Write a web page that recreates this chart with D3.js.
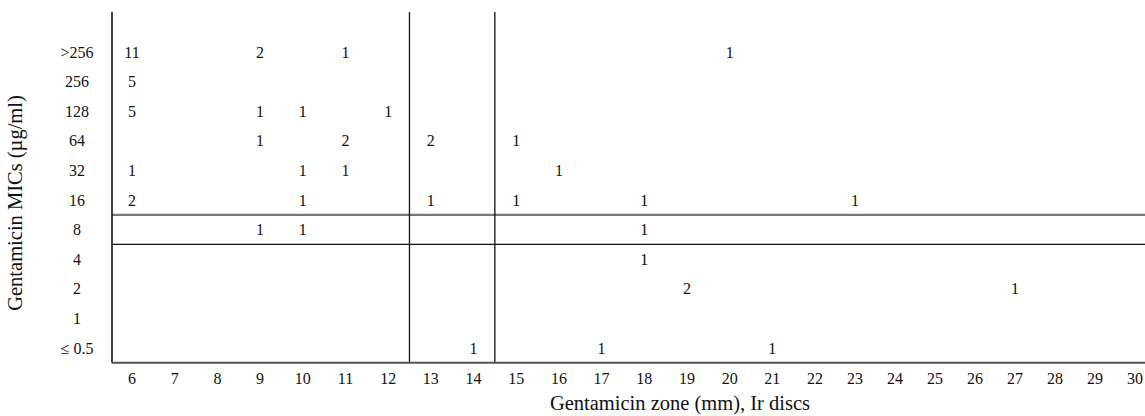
<!DOCTYPE html>
<html><head><meta charset="utf-8">
<script src="https://cdn.jsdelivr.net/npm/d3@7/dist/d3.min.js"></script>
<style>
html,body{margin:0;padding:0;background:#fff;}
svg{display:block;}
svg text{font-family:"Liberation Serif","Times New Roman","DejaVu Serif",serif;}
</style></head>
<body><svg id="chart" width="1145" height="416"></svg>
<script>
// Zone diameters (mm) on x-axis
const zones = d3.range(6, 31);
// MIC categories (µg/ml), top to bottom
const mics = [">256", "256", "128", "64", "32", "16", "8", "4", "2", "1", "\u2264 0.5"];
// Counts: [zone, mic, count]
const counts = [
  [6, ">256", 11], [9, ">256", 2], [11, ">256", 1], [20, ">256", 1],
  [6, "256", 5],
  [6, "128", 5], [9, "128", 1], [10, "128", 1], [12, "128", 1],
  [9, "64", 1], [11, "64", 2], [13, "64", 2], [15, "64", 1],
  [6, "32", 1], [10, "32", 1], [11, "32", 1], [16, "32", 1],
  [6, "16", 2], [10, "16", 1], [13, "16", 1], [15, "16", 1], [18, "16", 1], [23, "16", 1],
  [9, "8", 1], [10, "8", 1], [18, "8", 1],
  [18, "4", 1],
  [19, "2", 2], [27, "2", 1],
  [14, "\u2264 0.5", 1], [17, "\u2264 0.5", 1], [21, "\u2264 0.5", 1]
];
// Breakpoint lines
const zoneBreaks = [12.5, 14.5];
const micBreaks = [["16", "8", "#7a7a7a", 2.2], ["8", "4", "#111", 1.3]];

const svg = d3.select("#chart");
const x = d3.scaleLinear().domain([6, 22, 30]).range([132, 815, 1135]);
const y = d3.scalePoint().domain(mics).range([52, 348]);
const step = y.step();
const plotL = 112, plotR = 1145, plotT = 12, plotB = y(mics[mics.length - 1]) + step / 2;

const ink = "#111";
const serif = "Liberation Serif, Times New Roman, DejaVu Serif, serif";

// x tick labels
svg.append("g").selectAll("text").data(zones).join("text")
  .attr("x", d => x(d)).attr("y", 384)
  .attr("text-anchor", "middle").attr("font-size", 16).attr("font-family", serif).attr("fill", ink)
  .text(d => d);

// y tick labels
svg.append("g").selectAll("text").data(mics).join("text")
  .attr("x", 77).attr("y", d => y(d)).attr("dy", "0.35em")
  .attr("text-anchor", "middle").attr("font-size", 16).attr("font-family", serif).attr("fill", ink)
  .text(d => d);

// counts
svg.append("g").selectAll("text").data(counts).join("text")
  .attr("x", d => x(d[0])).attr("y", d => y(d[1])).attr("dy", "0.35em")
  .attr("text-anchor", "middle").attr("font-size", 16).attr("font-family", serif).attr("fill", ink)
  .text(d => d[2]);

// horizontal breakpoint lines
svg.append("g").selectAll("line").data(micBreaks).join("line")
  .attr("x1", plotL).attr("x2", plotR)
  .attr("y1", d => (y(d[0]) + y(d[1])) / 2).attr("y2", d => (y(d[0]) + y(d[1])) / 2)
  .attr("stroke", d => d[2]).attr("stroke-width", d => d[3]);

// vertical breakpoint lines
svg.append("g").selectAll("line").data(zoneBreaks).join("line")
  .attr("x1", d => x(d)).attr("x2", d => x(d))
  .attr("y1", plotT).attr("y2", plotB)
  .attr("stroke", ink).attr("stroke-width", 1.3);

// axes lines
svg.append("line").attr("x1", plotL).attr("x2", plotL).attr("y1", plotT).attr("y2", plotB)
  .attr("stroke", ink).attr("stroke-width", 1.6);
svg.append("line").attr("x1", plotL).attr("x2", plotR).attr("y1", plotB).attr("y2", plotB)
  .attr("stroke", "#555").attr("stroke-width", 2);

// axis titles
svg.append("text").attr("x", 680).attr("y", 410).attr("text-anchor", "middle")
  .attr("font-size", 20.5).attr("font-family", serif).attr("fill", ink)
  .text("Gentamicin zone (mm), Ir discs");
svg.append("text").attr("transform", "translate(22,203) rotate(-90)")
  .attr("text-anchor", "middle").attr("font-size", 20.5).attr("font-family", serif).attr("fill", ink)
  .text("Gentamicin MICs (\u00b5g/ml)");
</script></body></html>
